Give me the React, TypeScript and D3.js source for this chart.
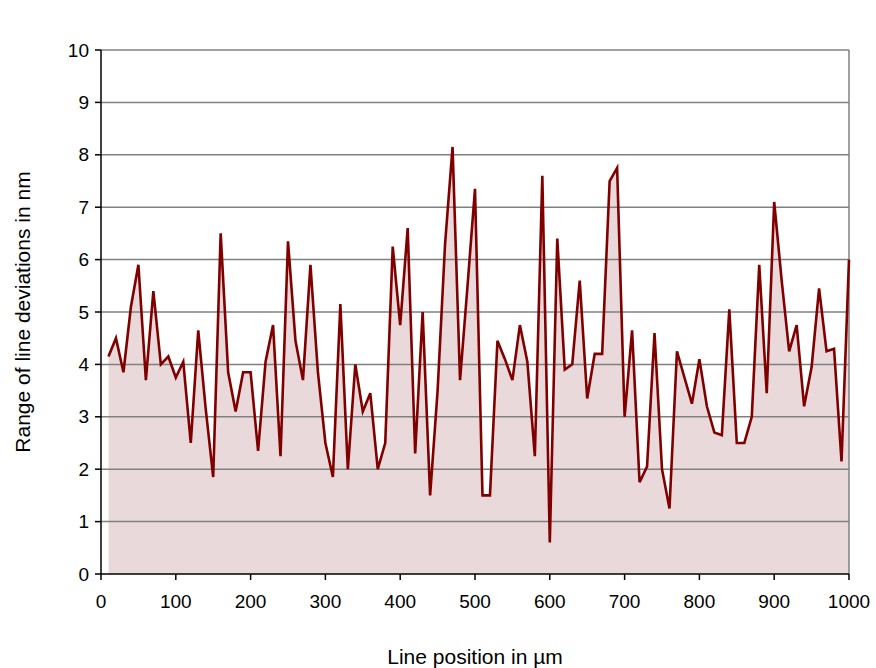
import * as d3 from "d3";

const positions: number[] = d3.range(10, 1001, 10);
const deviations: number[] = [
  4.15, 4.5, 3.85, 5.1, 5.9, 3.7, 5.4, 4.0, 4.15, 3.75,
  4.05, 2.5, 4.65, 3.15, 1.85, 6.5, 3.85, 3.1, 3.85, 3.85,
  2.35, 4.05, 4.75, 2.25, 6.35, 4.45, 3.7, 5.9, 3.85, 2.5,
  1.85, 5.15, 2.0, 4.0, 3.1, 3.45, 2.0, 2.5, 6.25, 4.75,
  6.6, 2.3, 5.0, 1.5, 3.5, 6.3, 8.15, 3.7, 5.5, 7.35,
  1.5, 1.5, 4.45, 4.1, 3.7, 4.75, 4.05, 2.25, 7.6, 0.6,
  6.4, 3.9, 4.0, 5.6, 3.35, 4.2, 4.2, 7.5, 7.75, 3.0,
  4.65, 1.75, 2.05, 4.6, 2.0, 1.25, 4.25, 3.75, 3.25, 4.1,
  3.2, 2.7, 2.65, 5.05, 2.5, 2.5, 3.0, 5.9, 3.45, 7.1,
  5.6, 4.25, 4.75, 3.2, 3.95, 5.45, 4.25, 4.3, 2.15, 6.0,
];
const xTicks = d3.range(0, 1001, 100);
const yTicks = d3.range(0, 11, 1);

export default function App() {
  const W = 876, H = 668;
  const left = 101, right = 849, top = 50, bottom = 574;
  const x = d3.scaleLinear().domain([0, 1000]).range([left, right]);
  const y = d3.scaleLinear().domain([0, 10]).range([bottom, top]);
  const pts = positions.map((p, i) => [p, deviations[i]] as [number, number]);
  const line = d3.line<[number, number]>().x(d => x(d[0])).y(d => y(d[1]));
  const area = d3.area<[number, number]>().x(d => x(d[0])).y0(y(0)).y1(d => y(d[1]));
  const font = "Liberation Sans, Arial, sans-serif";

  return (
    <svg width={W} height={H} style={{ position: "absolute", left: 0, top: 0 }} fontFamily={font}>
      <rect width={W} height={H} fill="#fff" />
      <path d={area(pts) ?? ""} fill="#ead9da" />
      {yTicks.filter(t => t > 0).map(t => (
        <line key={t} x1={left} x2={right} y1={y(t)} y2={y(t)} stroke="#808080" strokeWidth={1.5} />
      ))}
      <line x1={right} x2={right} y1={top} y2={bottom} stroke="#808080" strokeWidth={1.5} />
      <path d={line(pts) ?? ""} fill="none" stroke="#800000" strokeWidth={2.6} strokeLinejoin="miter" />
      <line x1={left} x2={left} y1={top} y2={bottom} stroke="#000" strokeWidth={1.5} />
      <line x1={left} x2={right} y1={bottom} y2={bottom} stroke="#000" strokeWidth={1.5} />
      {yTicks.map(t => (
        <g key={t}>
          <line x1={left - 6} x2={left} y1={y(t)} y2={y(t)} stroke="#000" strokeWidth={1.5} />
          <text x={left - 12} y={y(t)} dy="0.35em" textAnchor="end" fontSize={19}>{t}</text>
        </g>
      ))}
      {xTicks.map(t => (
        <g key={t}>
          <line x1={x(t)} x2={x(t)} y1={bottom} y2={bottom + 6} stroke="#000" strokeWidth={1.5} />
          <text x={x(t)} y={bottom + 34} textAnchor="middle" fontSize={19}>{t}</text>
        </g>
      ))}
      <text x={(left + right) / 2} y={664} textAnchor="middle" fontSize={21}>Line position in µm</text>
      <text transform={`translate(30,${(top + bottom) / 2}) rotate(-90)`} textAnchor="middle" fontSize={21}>
        Range of line deviations in nm
      </text>
    </svg>
  );
}
